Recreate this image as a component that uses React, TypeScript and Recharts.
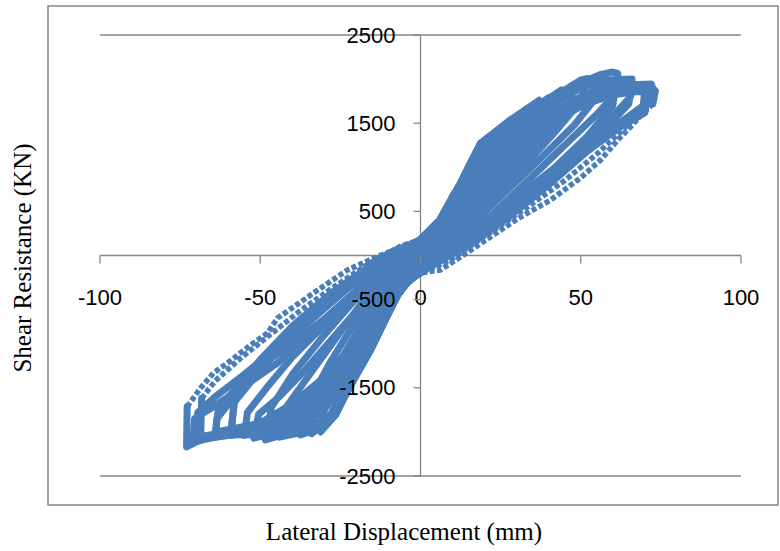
import React from 'react';
import { ScatterChart, Scatter, XAxis, YAxis, CartesianGrid, ReferenceLine, ReferenceDot } from 'recharts';

type Pt = [number, number];

const xTicks = [-100, -50, 0, 50, 100];
const yTicks = [-2500, -1500, -500, 500, 1500, 2500];

// Hysteresis cycles, [displacement (mm), shear (kN)], in loading order
const cycle1: Pt[] = [[0,140],[1.5,220],[3,285],[2.4,190],[1,40],[0,-70],[-1.5,-160],[-3,-245],[-2.4,-150],[-1,-10],[0,110]];
const cycle2: Pt[] = [[0,150],[3,285],[6,400],[5.2,290],[3,140],[1,0],[0,-100],[-3.1,-250],[-7,-440],[-6.2,-320],[-4,-170],[-2,-30],[0,130]];
const cycle3: Pt[] = [[0,160],[3,290],[6,400],[9.4,620],[10.2,690],[9.4,580],[6,340],[3,130],[0,-110],[-3.1,-255],[-7.2,-448],[-11.5,-765],[-10.6,-640],[-7,-380],[-3.5,-120],[0,150]];
const cycle4: Pt[] = [[0,170],[3,290],[6,400],[9.4,620],[12.5,820],[15,1000],[14,860],[10,560],[5,200],[0,-130],[-3.1,-255],[-7.2,-448],[-11.5,-765],[-15.6,-1071],[-14.6,-920],[-10,-540],[-5,-190],[0,160]];
const cycle5: Pt[] = [[0,175],[3,290],[6,400],[9.4,620],[12.5,820],[15.6,1048],[19,1280],[18,1120],[14,820],[9,450],[4,120],[0,-120],[-3.1,-255],[-7.2,-448],[-11.5,-765],[-15.6,-1071],[-19.7,-1332],[-18.5,-1150],[-14,-800],[-8,-380],[-3,-50],[0,150]];
const cycle6: Pt[] = [[0,178],[3,290],[6,400],[9.4,620],[12.5,820],[15.6,1048],[18.7,1270],[24,1420],[22.8,1230],[18,930],[12,540],[6,180],[0,-140],[-3.1,-255],[-7.2,-448],[-11.5,-765],[-15.6,-1071],[-19.7,-1332],[-23.4,-1582],[-22,-1350],[-17,-950],[-10,-470],[-4,-90],[0,160]];
const cycle7: Pt[] = [[0,180],[3,290],[6,400],[9.4,620],[12.5,820],[15.6,1048],[18.7,1270],[24,1420],[28,1536],[30,1570],[28.8,1380],[23,1050],[15,620],[8,240],[0,-160],[-3.1,-255],[-7.2,-448],[-11.5,-765],[-15.6,-1071],[-19.7,-1332],[-23.4,-1582],[-26.5,-1808],[-25,-1560],[-19,-1080],[-12,-560],[-5,-120],[0,165]];
const cycle8: Pt[] = [[0,175],[6,380],[12,740],[18,1150],[24,1380],[30,1500],[28.8,1300],[22,930],[14,520],[7,170],[0,-160],[-6,-380],[-12,-760],[-20,-1280],[-26.5,-1700],[-25,-1450],[-19,-1000],[-12,-500],[-5,-100],[0,165]];
const cycle9: Pt[] = [[0,178],[6,390],[12,770],[18,1180],[24,1400],[30,1570],[33,1660],[31.5,1440],[26,1120],[18,720],[10,330],[4,60],[0,-160],[-6,-380],[-12,-770],[-20,-1300],[-27,-1820],[-34,-2020],[-32.5,-1700],[-26,-1250],[-18,-760],[-10,-300],[-4,-20],[0,170]];
const cycle10: Pt[] = [[0,180],[3,290],[6,400],[9.4,620],[12.5,820],[15.6,1048],[18.7,1270],[24,1420],[28,1536],[33,1660],[37,1760],[35,1500],[30,1250],[20,760],[12,380],[6,100],[0,-150],[-3.1,-255],[-7.2,-448],[-11.5,-765],[-15.6,-1071],[-19.7,-1332],[-23.4,-1582],[-26.5,-1808],[-31.2,-2001],[-29.5,-1640],[-23,-1100],[-15,-560],[-7,-130],[0,170]];
const cycle11: Pt[] = [[0,178],[6,385],[12,750],[20,1200],[30,1500],[36,1680],[40,1790],[38.5,1560],[32,1250],[24,900],[15,480],[7,140],[0,-170],[-6,-375],[-12,-760],[-20,-1270],[-28,-1800],[-35,-1990],[-44,-2060],[-42.5,-1750],[-36,-1420],[-28,-1020],[-18,-520],[-8,-110],[0,172]];
const cycle12: Pt[] = [[0,180],[6,390],[12,760],[20,1230],[30,1520],[40,1780],[44,1876],[42,1620],[35,1300],[25,880],[15,450],[6,80],[0,-170],[-6,-380],[-12,-780],[-20,-1300],[-26,-1720],[-31,-1950],[-37.4,-2035],[-35.5,-1700],[-28,-1200],[-18,-620],[-9,-180],[0,170]];
const cycle13: Pt[] = [[0,178],[6,380],[12,730],[20,1180],[30,1490],[40,1750],[48,1940],[46.5,1700],[40,1400],[30,1000],[18,500],[8,120],[0,-175],[-6,-365],[-12,-730],[-20,-1200],[-30,-1720],[-40,-1960],[-52,-2070],[-50.5,-1800],[-44,-1600],[-36,-1300],[-26,-880],[-14,-380],[-5,0],[0,178]];
const cycle14: Pt[] = [[0,180],[6,380],[12,720],[20,1150],[30,1480],[40,1760],[50,1990],[52,2005],[50,1750],[42,1400],[32,1000],[20,520],[10,150],[0,-180],[-6,-370],[-12,-740],[-20,-1230],[-30,-1750],[-38,-1980],[-48.4,-2092],[-46.5,-1720],[-40,-1350],[-30,-900],[-18,-400],[-8,-40],[0,175]];
const cycle15: Pt[] = [[0,180],[6,375],[12,700],[20,1120],[30,1460],[40,1720],[50,1940],[56,2040],[55,1800],[48,1480],[38,1120],[26,700],[14,280],[5,0],[0,-185],[-6,-355],[-12,-700],[-20,-1150],[-30,-1620],[-40,-1900],[-48,-1990],[-55,-2040],[-54,-1780],[-48,-1500],[-40,-1150],[-30,-790],[-18,-380],[-7,-30],[0,178]];
const cycle16: Pt[] = [[0,180],[6,370],[12,690],[20,1100],[30,1450],[40,1740],[50,1960],[56,2050],[60,2080],[61.5,2065],[62,1880],[55,1600],[45,1250],[35,900],[22,450],[10,90],[0,-190],[-6,-360],[-12,-710],[-20,-1170],[-30,-1650],[-40,-1930],[-50,-2030],[-59.3,-2035],[-58,-1660],[-50,-1300],[-40,-920],[-28,-520],[-15,-150],[-6,60],[0,180]];
const cycle17: Pt[] = [[0,170],[6,350],[12,640],[20,1000],[30,1330],[40,1600],[50,1800],[58,1930],[61,1950],[60,1700],[52,1350],[42,1000],[30,650],[18,280],[8,20],[0,-190],[-6,-340],[-12,-670],[-20,-1100],[-30,-1560],[-40,-1850],[-50,-1960],[-59,-1990],[-58,-1560],[-50,-1180],[-40,-800],[-28,-430],[-15,-100],[0,180]];
const cycle18: Pt[] = [[0,175],[6,360],[12,670],[20,1060],[30,1400],[40,1680],[50,1900],[58,1990],[66,2000],[65.5,1800],[58,1500],[48,1150],[36,780],[24,400],[12,80],[0,-185],[-6,-350],[-12,-690],[-20,-1130],[-30,-1600],[-40,-1900],[-50,-2010],[-58,-2030],[-64,-2050],[-63.5,-1850],[-56,-1500],[-46,-1120],[-35,-760],[-22,-350],[-10,-20],[0,178]];
const cycle19: Pt[] = [[0,170],[6,345],[12,630],[20,990],[30,1320],[40,1590],[50,1790],[60,1920],[66,1960],[65,1720],[58,1450],[48,1120],[36,760],[24,400],[12,70],[0,-190],[-6,-340],[-12,-660],[-20,-1080],[-30,-1540],[-40,-1760],[-50,-1900],[-58,-1960],[-64,-2000],[-63,-1720],[-56,-1450],[-48,-1200],[-40,-1000],[-30,-720],[-18,-330],[-8,-20],[0,178]];
const cycle20: Pt[] = [[0,165],[6,330],[12,590],[20,910],[30,1240],[40,1520],[50,1720],[60,1830],[68,1860],[71,1850],[70,1620],[62,1450],[52,1180],[40,800],[28,450],[15,120],[0,-190],[-6,-330],[-12,-630],[-20,-1030],[-30,-1480],[-40,-1800],[-50,-1960],[-60,-2000],[-70,-2060],[-69.5,-1780],[-64,-1600],[-55,-1350],[-45,-1050],[-34,-700],[-22,-330],[-10,-20],[0,175]];
const cycle21: Pt[] = [[0,165],[6,325],[12,580],[20,900],[30,1220],[40,1500],[50,1700],[60,1820],[70,1880],[69.5,1700],[62,1500],[52,1250],[40,900],[28,540],[15,180],[0,-192],[-6,-310],[-12,-590],[-20,-960],[-30,-1380],[-40,-1680],[-50,-1900],[-60,-2010],[-71,-2120],[-70.5,-1850],[-64,-1700],[-55,-1480],[-45,-1230],[-34,-900],[-22,-500],[-10,-120],[0,176]];
// two largest cycles: loading parts (solid) and unloading parts (sparse markers)
const cycle22LoadPos: Pt[] = [[0,170],[6,340],[12,610],[20,950],[30,1280],[40,1560],[50,1760],[58,1880],[63,1930],[68,1940],[72,1945],[72.6,1880]];
const cycle22UnloadPos: Pt[] = [[72.6,1880],[70,1690],[63,1420],[55,1150],[45,850],[33,540],[20,220],[9,-60],[0,-198]];
const cycle22LoadNeg: Pt[] = [[0,-198],[-6,-330],[-12,-640],[-20,-1050],[-30,-1500],[-40,-1820],[-50,-2000],[-60,-2030],[-68.6,-2092],[-68.3,-1620]];
const cycle22UnloadNeg: Pt[] = [[-68.3,-1620],[-64,-1420],[-56,-1160],[-47,-900],[-38,-640],[-28,-380],[-16,-90],[-6,110],[0,180]];
const cycle23LoadPos: Pt[] = [[0,160],[6,320],[12,570],[20,880],[30,1200],[40,1480],[50,1690],[60,1840],[66,1890],[71,1915],[73.3,1870],[72.5,1720]];
const cycle23UnloadPos: Pt[] = [[72.5,1720],[68.6,1582],[65.5,1457],[61.5,1308],[56.2,1083],[49.9,879],[40.6,629],[31.2,436],[21.8,210],[12.5,-17],[6.2,-164],[0,-198]];
const cycle23LoadNeg: Pt[] = [[0,-198],[-6,-320],[-12,-620],[-20,-1010],[-30,-1450],[-40,-1780],[-50,-1990],[-60,-2040],[-68,-2080],[-73,-2170],[-72.8,-1714]];
const cycle23UnloadNeg: Pt[] = [[-72.8,-1714],[-68.6,-1502],[-64.6,-1332],[-60.2,-1219],[-56.2,-1105],[-52.1,-992],[-47.7,-879],[-44.6,-709],[-39.6,-584],[-33.4,-425],[-22.8,-164],[-12.5,0],[-5,110],[0,180]];

const solidSegments: Pt[][] = [cycle1, cycle2, cycle3, cycle4, cycle5, cycle6, cycle7, cycle8, cycle9, cycle10, cycle11, cycle12, cycle13, cycle14, cycle15, cycle16, cycle17, cycle18, cycle19, cycle20, cycle21, cycle22LoadPos, cycle22LoadNeg, cycle23LoadPos, cycle23LoadNeg];
const sparseSegments: Pt[][] = [cycle22UnloadPos, cycle22UnloadNeg, cycle23UnloadPos, cycle23UnloadNeg];

const SERIES = '#4A7EBB';
const AXIS = '#868686';
const TICK_FONT = '"Liberation Sans", Arial, sans-serif';
const TITLE_FONT = '"Liberation Serif", "Times New Roman", serif';

const NoShape = () => <g />;

const makeXTick = (v: number) => (p: any) => (
  <g>
    <line x1={p.cx} y1={p.cy} x2={p.cx} y2={p.cy + 8} stroke={AXIS} strokeWidth={1.3} />
    <text x={p.cx} y={p.cy + 42} textAnchor="middle" dominantBaseline="central" fontFamily={TICK_FONT} fontSize={22} fill="#000">{String(v)}</text>
  </g>
);

const makeYTick = (v: number) => (p: any) => (
  <g>
    <line x1={p.cx - 7} y1={p.cy} x2={p.cx} y2={p.cy} stroke={AXIS} strokeWidth={1.3} />
    <text x={p.cx - 25} y={p.cy} textAnchor="end" dominantBaseline="central" fontFamily={TICK_FONT} fontSize={22} fill="#000">{String(v)}</text>
  </g>
);

export default function App() {
  return (
    <div style={{ position: 'absolute', left: 0, top: 0, width: 780, height: 551, background: '#fff' }}>
      <svg width={780} height={551} style={{ position: 'absolute', left: 0, top: 0 }}>
        <rect x={48} y={6} width={730} height={499} fill="#fff" stroke={AXIS} strokeWidth={1.5} />
        <text x={404} y={531} textAnchor="middle" dominantBaseline="central" fontFamily={TITLE_FONT} fontSize={25} fill="#000">Lateral Displacement (mm)</text>
        <text x={22} y={258} textAnchor="middle" dominantBaseline="central" fontFamily={TITLE_FONT} fontSize={25} fill="#000" transform="rotate(-90 22 258)">Shear Resistance (KN)</text>
      </svg>
      <div style={{ position: 'absolute', left: 0, top: 0 }}>
        <ScatterChart width={780} height={551} margin={{ top: 35, right: 39, bottom: 75, left: 100 }}>
          <CartesianGrid vertical={false} stroke={AXIS} strokeWidth={1.3} strokeDasharray="" />
          <XAxis type="number" dataKey="x" domain={[-100, 100]} ticks={xTicks} hide />
          <YAxis type="number" dataKey="y" domain={[-2500, 2500]} ticks={yTicks} width={0} tick={false} axisLine={false} tickLine={false} />
          <ReferenceLine y={0} stroke={AXIS} strokeWidth={1.3} />
          <ReferenceLine x={0} stroke={AXIS} strokeWidth={1.3} />
          {solidSegments.map((c, i) => (
            <Scatter
              key={'s' + i}
              data={c.map(([x, y]) => ({ x, y }))}
              fill={SERIES}
              line={{ stroke: SERIES, strokeWidth: 7, strokeLinejoin: 'round', strokeLinecap: 'round' }}
              shape={NoShape}
              isAnimationActive={false}
            />
          ))}
          {sparseSegments.map((c, i) => (
            <Scatter
              key={'d' + i}
              data={c.map(([x, y]) => ({ x, y }))}
              fill={SERIES}
              line={{ stroke: SERIES, strokeWidth: 5.5, strokeDasharray: '5 2.5', strokeLinejoin: 'round' }}
              shape={NoShape}
              isAnimationActive={false}
            />
          ))}
          {xTicks.map((v) => (
            <ReferenceDot key={'x' + v} x={v} y={0} r={0} shape={makeXTick(v)} />
          ))}
          {yTicks.map((v) => (
            <ReferenceDot key={'y' + v} x={0} y={v} r={0} shape={makeYTick(v)} />
          ))}
        </ScatterChart>
      </div>
    </div>
  );
}
